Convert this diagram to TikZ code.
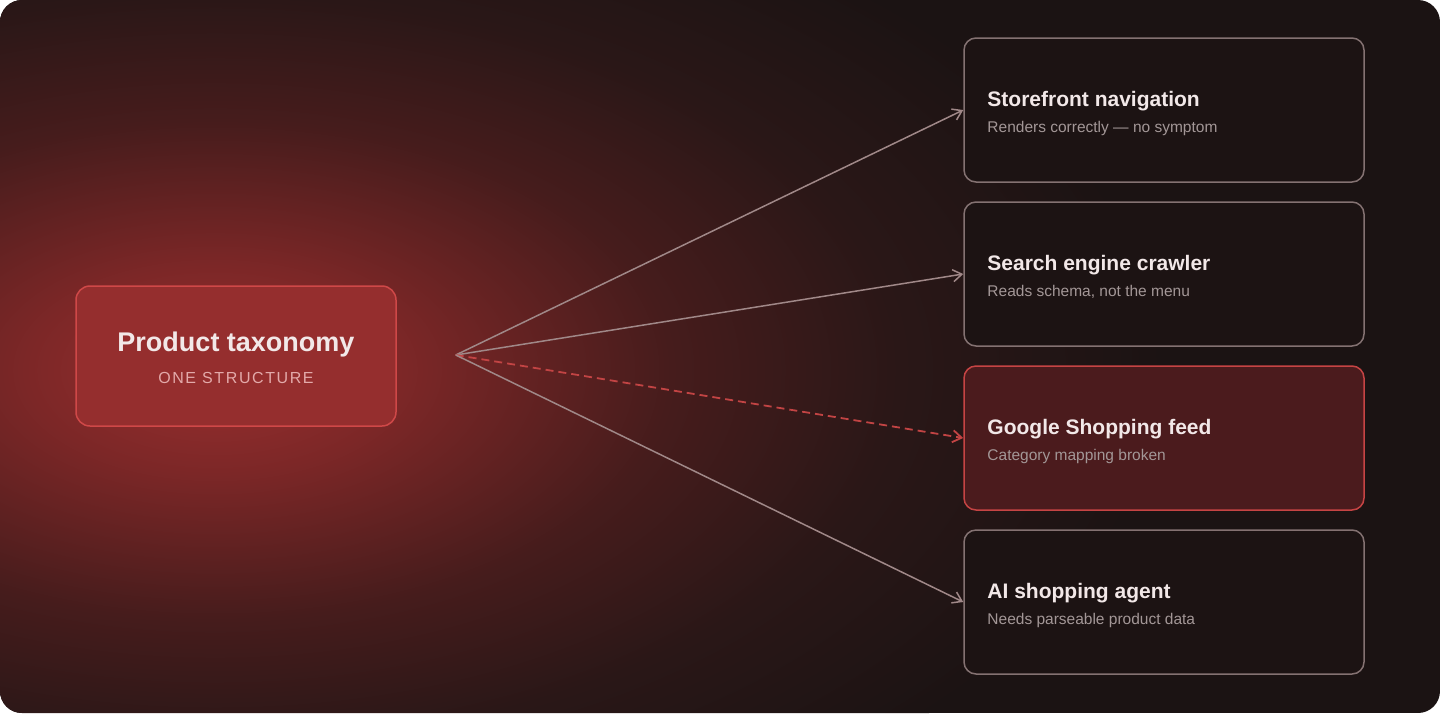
\documentclass[tikz,border=0pt]{standalone}
\usepackage{fontspec}
\setmainfont{Liberation Sans}
\newfontfamily\capsfont[LetterSpace=10]{Liberation Sans}
\usetikzlibrary{arrows.meta,calc}

\definecolor{glowcore}{HTML}{9A2F2F}
\definecolor{glowhi}{HTML}{7C2727}
\definecolor{glowmid}{HTML}{461C1C}
\definecolor{bgmid}{HTML}{2A1717}
\definecolor{bgouter}{HTML}{1B1313}
\definecolor{srcfill}{HTML}{952E2E}
\definecolor{srcline}{HTML}{CF4848}
\definecolor{cardfill}{HTML}{1C1313}
\definecolor{cardline}{HTML}{847272}
\definecolor{hotfill}{HTML}{4B1B1D}
\definecolor{hotline}{HTML}{C64444}
\definecolor{linkgray}{HTML}{A08888}
\definecolor{linkred}{HTML}{C24444}
\definecolor{titlecol}{HTML}{F2E8E8}
\definecolor{subcol}{HTML}{A39797}
\definecolor{capscol}{HTML}{E3AAAA}

\pgfdeclareradialshading{glow}{\pgfpoint{0bp}{0bp}}{color(0bp)=(glowcore); color(5bp)=(glowhi); color(12bp)=(glowmid); color(18bp)=(bgmid); color(25bp)=(bgouter); color(50bp)=(bgouter)}

\begin{document}
\begin{tikzpicture}[x=1pt,y=-1pt,
  srcbox/.style={draw=srcline, fill=srcfill, line width=1.5pt, rounded corners=14pt, minimum width=320pt, minimum height=140pt, inner sep=0pt},
  card/.style={draw=cardline, fill=cardfill, line width=1.5pt, rounded corners=12pt, minimum width=400pt, minimum height=144pt, inner sep=0pt},
  hotcard/.style={card, draw=hotline, fill=hotfill},
  cardtitle/.style={anchor=base west, inner sep=0pt, text=titlecol, font=\fontsize{21}{25}\selectfont\bfseries},
  cardsub/.style={anchor=base west, inner sep=0pt, text=subcol, font=\fontsize{15.5}{19}\selectfont},
  link/.style={draw=linkgray, line width=1.5pt, -{Straight Barb[length=9pt,width=12pt]}},
  hotlink/.style={link, draw=linkred, line width=1.8pt, dash pattern=on 8pt off 5pt}]
\useasboundingbox (0,0) rectangle (1440,713);
\fill[white] (0,0) rectangle (1440,713);
% background with red glow
\begin{scope}
\clip[rounded corners=22pt] (0,0) rectangle (1440,713);
\fill[bgouter] (0,0) rectangle (1440,713);
\shade[shading=glow] (215,370) ellipse [x radius=950pt, y radius=520pt];
\end{scope}
% source
\node[srcbox] (tax) at (236,356) {};
\node[anchor=base, inner sep=0pt, text=titlecol, font=\fontsize{27}{32}\selectfont\bfseries] (taxtitle) at ($(tax.center)+(0,-5)$) {Product taxonomy};
\node[anchor=base, inner sep=0pt, text=capscol, font=\fontsize{16}{19}\selectfont] (taxsub) at ($(tax.center)+(0,27)$) {\capsfont ONE STRUCTURE};
\coordinate (hub) at ($(tax.east)+(59,-1)$);
% consumers
\node[card] (nav) at (1164,110) {};
\node[cardtitle] (navtitle) at ($(nav.west)+(24,-3.5)$) {Storefront navigation};
\node[cardsub] (navsub) at ($(nav.west)+(24,22)$) {Renders correctly — no symptom};
\node[card] (crawl) at (1164,274) {};
\node[cardtitle] (crawltitle) at ($(crawl.west)+(24,-3.5)$) {Search engine crawler};
\node[cardsub] (crawlsub) at ($(crawl.west)+(24,22)$) {Reads schema, not the menu};
\node[hotcard] (feed) at (1164,438) {};
\node[cardtitle] (feedtitle) at ($(feed.west)+(24,-3.5)$) {Google Shopping feed};
\node[cardsub] (feedsub) at ($(feed.west)+(24,22)$) {Category mapping broken};
\node[card] (agent) at (1164,602) {};
\node[cardtitle] (agenttitle) at ($(agent.west)+(24,-3.5)$) {AI shopping agent};
\node[cardsub] (agentsub) at ($(agent.west)+(24,22)$) {Needs parseable product data};
% links
\draw[link] (hub) -- (nav.west);
\draw[link] (hub) -- (crawl.west);
\draw[hotlink] (hub) -- (feed.west);
\draw[link] (hub) -- (agent.west);
\end{tikzpicture}
\end{document}
